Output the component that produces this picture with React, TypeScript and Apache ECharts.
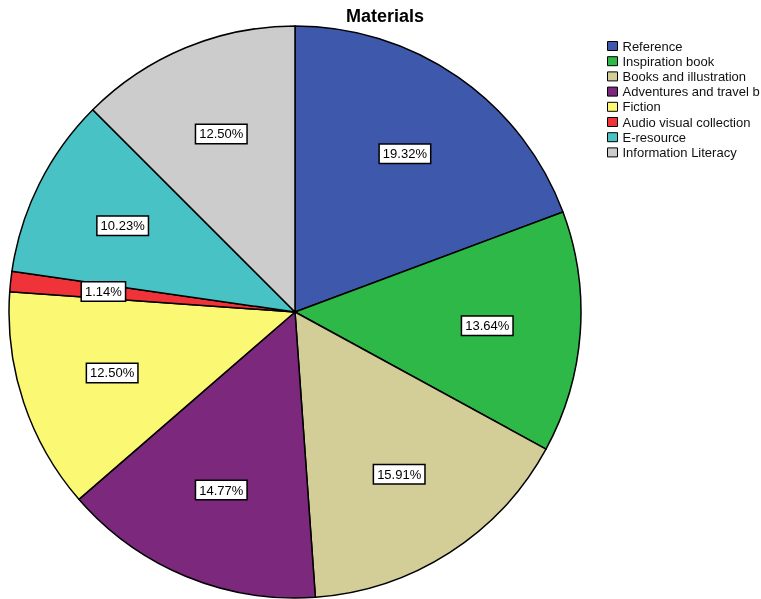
import React, { useEffect, useRef } from 'react';
import * as echarts from 'echarts';

const categories = [
  'Reference',
  'Inspiration book',
  'Books and illustration',
  'Adventures and travel books',
  'Fiction',
  'Audio visual collection',
  'E-resource',
  'Information Literacy',
];
const percentages = [19.32, 13.64, 15.91, 14.77, 12.5, 1.14, 10.23, 12.5];
const colors = ['#3e58ac', '#2eb848', '#d3ce97', '#7c287d', '#fbf873', '#ef3338', '#48c2c5', '#cccccc'];

const FONT = 'Liberation Sans, Arial, sans-serif';

export default function App() {
  const ref = useRef<HTMLDivElement>(null);
  useEffect(() => {
    const chart = echarts.init(ref.current!, null, { renderer: 'svg' });
    const CX = 295;
    const CY = 312;
    const R = 286;
    const LABEL_FRAC = 0.66;
    chart.setOption({
      animation: false,
      textStyle: { fontFamily: FONT },
      title: {
        text: 'Materials',
        left: 346,
        top: 7,
        padding: 0,
        textStyle: { fontSize: 18, fontWeight: 'bold', color: '#000', fontFamily: FONT },
      },
      legend: {
        orient: 'vertical',
        left: 607,
        top: 39,
        padding: 0,
        icon: 'rect',
        itemWidth: 10,
        itemHeight: 9,
        itemGap: 1.2,
        selectedMode: false,
        itemStyle: { borderColor: '#000', borderWidth: 1 },
        textStyle: {
          fontSize: 13,
          lineHeight: 14,
          color: '#111',
          fontFamily: FONT,
          width: 143,
          overflow: 'truncate',
          ellipsis: '',
        },
        data: categories,
      },
      color: colors,
      series: [
        {
          type: 'pie',
          center: [CX, CY],
          radius: R,
          startAngle: 90,
          clockwise: true,
          avoidLabelOverlap: false,
          silent: true,
          itemStyle: { borderColor: '#000', borderWidth: 1.5 },
          label: {
            show: true,
            position: 'inside',
            formatter: (p: any) => p.value.toFixed(2) + '%',
            fontSize: 13,
            color: '#000',
            backgroundColor: '#fff',
            borderColor: '#000',
            borderWidth: 1.5,
            padding: [3, 3, 2, 3],
            fontFamily: FONT,
          },
          labelLine: { show: false },
          labelLayout: (p: any) => {
            const lx = p.labelRect.x + p.labelRect.width / 2;
            const ly = p.labelRect.y + p.labelRect.height / 2;
            const k = LABEL_FRAC / 0.5;
            return {
              x: CX + (lx - CX) * k,
              y: CY + (ly - CY) * k,
              align: 'center',
              verticalAlign: 'middle',
            };
          },
          data: categories.map((name, i) => ({ name, value: percentages[i] })),
        },
      ],
    });
    return () => chart.dispose();
  }, []);
  return <div ref={ref} style={{ position: 'fixed', left: 0, top: 0, width: 761, height: 599 }} />;
}
